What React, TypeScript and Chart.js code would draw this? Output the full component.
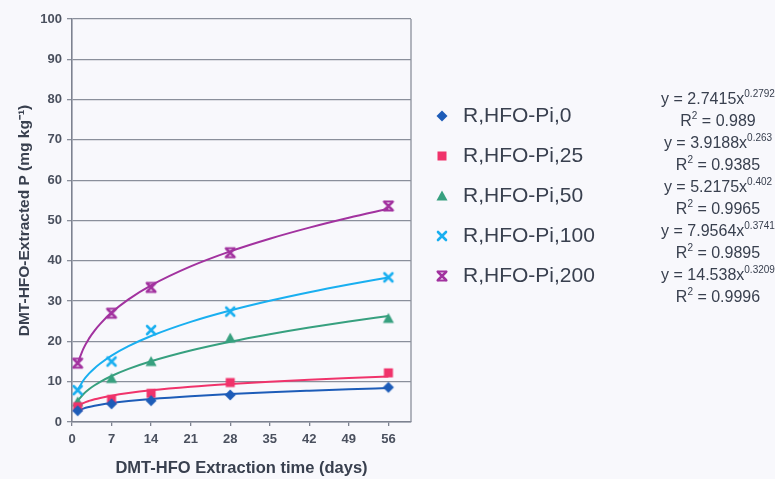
import React, { useEffect, useRef } from 'react';
import { Chart, registerables } from 'chart.js';

Chart.register(...registerables);

// ---- data ----
const sampleDays = [1, 7, 14, 28, 56];
const seriesNames = ['R,HFO-Pi,0', 'R,HFO-Pi,25', 'R,HFO-Pi,50', 'R,HFO-Pi,100', 'R,HFO-Pi,200'];
const pi0 = [2.8, 4.5, 5.3, 6.7, 8.6];
const pi25 = [3.8, 5.6, 7.1, 9.8, 12.2];
const pi50 = [5.0, 10.8, 15.0, 20.8, 25.7];
const pi100 = [7.9, 15.0, 22.8, 27.4, 35.9];
const pi200 = [14.6, 27.0, 33.4, 42.0, 53.6];

// power trend lines
const trendDays = [1, 2, 3, 4, 5, 7, 10, 14, 21, 28, 35, 42, 49, 56];
const trend0 = [2.74, 3.33, 3.73, 4.04, 4.3, 4.72, 5.21, 5.73, 6.42, 6.95, 7.4, 7.78, 8.13, 8.43];
const trend25 = [3.92, 4.7, 5.23, 5.64, 5.98, 6.54, 7.18, 7.85, 8.73, 9.41, 9.98, 10.47, 10.91, 11.3];
const trend50 = [5.22, 6.89, 8.12, 9.11, 9.96, 11.41, 13.17, 15.07, 17.74, 19.92, 21.78, 23.45, 24.95, 26.32];
const trend100 = [7.96, 10.31, 12.0, 13.36, 14.52, 16.48, 18.83, 21.35, 24.85, 27.67, 30.08, 32.21, 34.12, 35.87];
const trend200 = [14.54, 18.16, 20.69, 22.68, 24.36, 27.15, 30.44, 33.91, 38.62, 42.35, 45.49, 48.24, 50.69, 52.9];

const eqMain = ['y = 2.7415x', 'y = 3.9188x', 'y = 5.2175x', 'y = 7.9564x', 'y = 14.538x'];
const eqExp = ['0.2792', '0.263', '0.402', '0.3741', '0.3209'];
const rSquared = ['0.989', '0.9385', '0.9965', '0.9895', '0.9996'];

const xTickValues = [0, 7, 14, 21, 28, 35, 42, 49, 56];
const xTitle = 'DMT-HFO Extraction time (days)';
const yTitle = 'DMT-HFO-Extracted P (mg kg\u207B\u00B9)';

const colors = ['#1d5cb8', '#f0336b', '#37a07f', '#19aff0', '#a2329f'];
const markerKinds = ['diamond', 'square', 'triangle', 'x', 'star'];

const FONT = '"Liberation Sans", Arial, sans-serif';
const TEXT = '#39404f';

function makeMarker(kind: string, color: string): HTMLCanvasElement {
  const s = 16;
  const c = document.createElement('canvas');
  c.width = s;
  c.height = s;
  const g = c.getContext('2d')!;
  g.translate(s / 2, s / 2);
  g.fillStyle = color;
  g.strokeStyle = color;
  g.lineCap = 'round';
  if (kind === 'diamond') {
    g.beginPath();
    g.moveTo(0, -5.5);
    g.lineTo(5.5, 0);
    g.lineTo(0, 5.5);
    g.lineTo(-5.5, 0);
    g.closePath();
    g.fill();
  } else if (kind === 'square') {
    g.fillRect(-4.5, -4.5, 9, 9);
  } else if (kind === 'triangle') {
    g.beginPath();
    g.moveTo(0, -5.5);
    g.lineTo(5.5, 4.5);
    g.lineTo(-5.5, 4.5);
    g.closePath();
    g.fill();
  } else if (kind === 'x') {
    g.lineWidth = 2.6;
    g.beginPath();
    g.moveTo(-4, -4);
    g.lineTo(4, 4);
    g.moveTo(4, -4);
    g.lineTo(-4, 4);
    g.stroke();
  } else {
    g.lineWidth = 2.5;
    g.beginPath();
    g.moveTo(-4, -4);
    g.lineTo(4, 4);
    g.moveTo(4, -4);
    g.lineTo(-4, 4);
    g.stroke();
    g.lineWidth = 2;
    g.beginPath();
    g.moveTo(-4.5, -4.5);
    g.lineTo(4.5, -4.5);
    g.moveTo(-4.5, 4.5);
    g.lineTo(4.5, 4.5);
    g.stroke();
  }
  return c;
}

export default function App() {
  const ref = useRef<HTMLCanvasElement | null>(null);

  useEffect(() => {
    if (!ref.current) return;
    const markers = markerKinds.map((k, i) => makeMarker(k, colors[i]));
    const pointSeries = [pi0, pi25, pi50, pi100, pi200];
    const trendSeries = [trend0, trend25, trend50, trend100, trend200];

    const datasets: any[] = [];
    pointSeries.forEach((vals, i) => {
      datasets.push({
        type: 'scatter',
        label: seriesNames[i],
        data: sampleDays.map((d, j) => ({ x: d, y: vals[j] })),
        showLine: false,
        pointStyle: markers[i],
        pointRadius: 5,
        backgroundColor: colors[i],
        borderColor: colors[i],
        order: 0,
      });
    });
    trendSeries.forEach((vals, i) => {
      datasets.push({
        type: 'line',
        label: seriesNames[i] + ' trend',
        data: trendDays.map((d, j) => ({ x: d, y: vals[j] })),
        borderColor: colors[i],
        borderWidth: 2,
        pointRadius: 0,
        fill: false,
        cubicInterpolationMode: 'monotone',
        order: 1,
      });
    });

    const bgPlugin = {
      id: 'bg',
      beforeDraw(chart: any) {
        const ctx = chart.ctx;
        ctx.save();
        ctx.fillStyle = '#f8f8fc';
        ctx.fillRect(0, 0, chart.width, chart.height);
        ctx.restore();
      },
      beforeDatasetsDraw(chart: any) {
        const { ctx, chartArea } = chart;
        ctx.save();
        ctx.strokeStyle = '#8a8f9b';
        ctx.lineWidth = 1.3;
        ctx.beginPath();
        ctx.moveTo(chartArea.right, chartArea.top);
        ctx.lineTo(chartArea.right, chartArea.bottom);
        ctx.stroke();
        ctx.restore();
      },
      afterDraw(chart: any) {
        const ctx = chart.ctx;
        ctx.save();
        // legend
        ctx.textBaseline = 'middle';
        ctx.textAlign = 'left';
        ctx.fillStyle = TEXT;
        ctx.font = `21px ${FONT}`;
        seriesNames.forEach((name, i) => {
          const y = 116 + 40 * i;
          ctx.drawImage(markers[i], 442 - 8, y - 8);
          ctx.fillText(name, 463, y);
        });
        // equations
        const cx = 718;
        eqMain.forEach((eq, i) => {
          const y1 = 100 + 44 * i;
          const y2 = 122 + 44 * i;
          ctx.font = `16px ${FONT}`;
          const wm = ctx.measureText(eq).width;
          ctx.font = `10px ${FONT}`;
          const we = ctx.measureText(eqExp[i]).width;
          let x = cx - (wm + we) / 2;
          ctx.font = `16px ${FONT}`;
          ctx.fillText(eq, x, y1);
          ctx.font = `10px ${FONT}`;
          ctx.fillText(eqExp[i], x + wm, y1 - 6);

          const rest = ' = ' + rSquared[i];
          ctx.font = `16px ${FONT}`;
          const wR = ctx.measureText('R').width;
          const wRest = ctx.measureText(rest).width;
          ctx.font = `10px ${FONT}`;
          const w2 = ctx.measureText('2').width;
          x = cx - (wR + w2 + wRest) / 2;
          ctx.font = `16px ${FONT}`;
          ctx.fillText('R', x, y2);
          ctx.font = `10px ${FONT}`;
          ctx.fillText('2', x + wR, y2 - 6);
          ctx.font = `16px ${FONT}`;
          ctx.fillText(rest, x + wR + w2, y2);
        });
        ctx.restore();
      },
    };

    const chart = new Chart(ref.current, {
      type: 'scatter',
      data: { datasets },
      plugins: [bgPlugin],
      options: {
        animation: false,
        responsive: false,
        maintainAspectRatio: false,
        layout: { padding: { top: 19, right: 364, left: 0, bottom: 0 } },
        plugins: {
          legend: { display: false },
          tooltip: { enabled: false },
        },
        scales: {
          x: {
            type: 'linear',
            min: 0,
            max: 60,
            afterFit(scale: any) {
              scale.height = 57;
            },
            afterBuildTicks(scale: any) {
              scale.ticks = xTickValues.map((v) => ({ value: v }));
            },
            ticks: {
              stepSize: 7,
              padding: 6,
              color: '#4a505e',
              font: { family: FONT, size: 13, weight: 'bold' },
            },
            grid: {
              drawOnChartArea: false,
              drawTicks: true,
              tickLength: 4,
              color: '#7d8290',
              lineWidth: 1.3,
            },
            border: { display: true, color: '#7d8290', width: 1.6 },
            title: {
              display: true,
              text: xTitle,
              color: TEXT,
              font: { family: FONT, size: 16.5, weight: 'bold' },
              padding: { top: 0, bottom: 1 },
            },
          },
          y: {
            type: 'linear',
            min: 0,
            max: 100,
            afterFit(scale: any) {
              scale.width = 72;
            },
            ticks: {
              stepSize: 10,
              padding: 5,
              color: '#4a505e',
              font: { family: FONT, size: 13, weight: 'bold' },
            },
            grid: {
              drawTicks: true,
              tickLength: 5,
              color: '#8a8f9b',
              lineWidth: 1.3,
            },
            border: { display: true, color: '#7d8290', width: 1.6 },
            title: {
              display: true,
              text: yTitle,
              color: TEXT,
              font: { family: FONT, size: 15.5, weight: 'bold' },
              padding: { top: 15, bottom: 0 },
            },
          },
        },
      },
    } as any);

    return () => chart.destroy();
  }, []);

  return (
    <div style={{ position: 'fixed', left: 0, top: 0, width: 775, height: 479 }}>
      <canvas ref={ref} width={775} height={479} style={{ display: 'block' }} />
    </div>
  );
}
